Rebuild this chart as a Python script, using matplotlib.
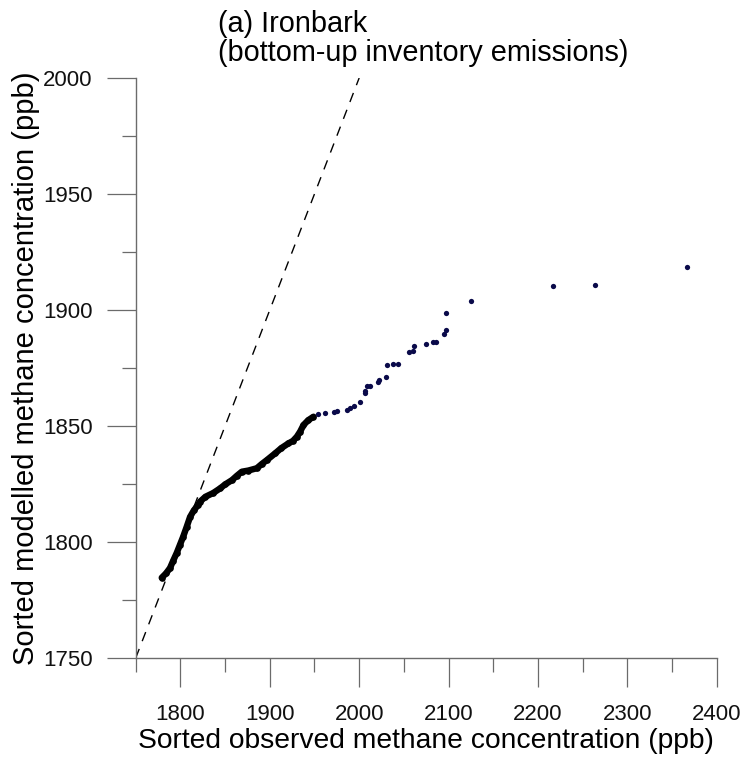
import matplotlib
matplotlib.use("Agg")
import matplotlib.pyplot as plt
from matplotlib.ticker import MultipleLocator

plt.rcParams['font.family'] = ['Liberation Sans', 'DejaVu Sans']

# sorted observed / sorted modelled CH4 (ppb), dense lower part of the curve
obs_dense = [1779.1, 1784.0, 1788.4, 1792.0, 1795.9, 1799.5, 1803.0, 1807.0, 1810.8,
             1815.0, 1819.8, 1822.0, 1828.0, 1836.6, 1844.4, 1850.0, 1857.8, 1863.0,
             1868.7, 1876.0, 1885.5, 1891.0, 1896.7, 1906.0, 1913.0, 1920.9, 1926.0,
             1930.3, 1934.0, 1937.7, 1943.0, 1948.9]
mod_dense = [1784.6, 1786.5, 1788.8, 1792.0, 1795.3, 1798.8, 1802.2, 1806.5, 1810.8,
             1813.6, 1816.0, 1817.4, 1819.5, 1821.1, 1823.1, 1824.8, 1826.7, 1828.5,
             1830.3, 1830.8, 1831.8, 1833.6, 1835.3, 1838.2, 1840.5, 1842.5, 1843.6,
             1845.4, 1847.6, 1850.4, 1852.5, 1854.0]

# sparse upper tail
obs_tail = [1954.5, 1962.0, 1971.3, 1975.1, 1986.3, 1990.0, 1993.7, 2001.2, 2006.0,
            2006.8, 2008.7, 2012.4, 2020.6, 2022.1, 2030.3, 2031.1, 2037.8, 2042.9,
            2056.0, 2060.2, 2061.6, 2075.1, 2082.1, 2086.3, 2095.2, 2096.7, 2096.7,
            2125.5, 2217.0, 2264.0, 2367.0]
mod_tail = [1855.0, 1855.7, 1856.2, 1856.5, 1856.9, 1857.9, 1858.6, 1860.3, 1864.4,
            1865.2, 1867.4, 1867.4, 1869.1, 1869.8, 1871.3, 1876.2, 1876.6, 1876.6,
            1882.0, 1882.3, 1884.4, 1885.5, 1886.3, 1886.3, 1889.8, 1891.4, 1898.6,
            1904.0, 1910.3, 1910.8, 1918.7]

one_to_one = [1750, 2000]

x_lim = (1750, 2400)
y_lim = (1750, 2000)

pt_col = '#0a0a4a'
grey = '#6b6b6b'

fig = plt.figure(figsize=(7.42, 7.60), dpi=100)
ax = fig.add_axes([0.1829, 0.1342, 0.7830, 0.7632])

ax.plot(one_to_one, one_to_one, color='black', lw=1.0, dashes=(7, 6))
ax.plot(obs_dense, mod_dense, color='black', lw=4.6, solid_capstyle='round',
        marker='o', ms=4.8, mec='none')
ax.plot(obs_tail, mod_tail, ls='none', marker='o', ms=3.8, color=pt_col, mec='none')

ax.set_xlim(*x_lim)
ax.set_ylim(*y_lim)

for s in ['top', 'right']:
    ax.spines[s].set_visible(False)
for s in ['left', 'bottom']:
    ax.spines[s].set_color(grey)
    ax.spines[s].set_linewidth(1.0)

ax.xaxis.set_major_locator(MultipleLocator(100))
ax.xaxis.set_minor_locator(MultipleLocator(50))
ax.yaxis.set_major_locator(MultipleLocator(50))
ax.yaxis.set_minor_locator(MultipleLocator(25))
ax.set_xticks(range(1800, 2401, 100))

ax.tick_params(which='major', length=21, width=0.9, color=grey, labelsize=16,
               labelcolor='#111111')
ax.tick_params(which='minor', length=10, width=0.9, color=grey)
ax.tick_params(axis='x', which='major', pad=12)
ax.tick_params(axis='y', which='major', pad=10)

ax.set_xlabel('Sorted observed methane concentration (ppb)', fontsize=20.3,
              color='#000000', labelpad=2)
ax.set_ylabel('Sorted modelled methane concentration (ppb)', fontsize=21,
              color='#000000', labelpad=2)

fig.text(218 / 742, 1 - 10 / 760, '(a) Ironbark\n(bottom-up inventory emissions)',
         fontsize=20.8, va='top', ha='left', color='#000000', linespacing=1.05)

fig.savefig('out.png', dpi=100)
